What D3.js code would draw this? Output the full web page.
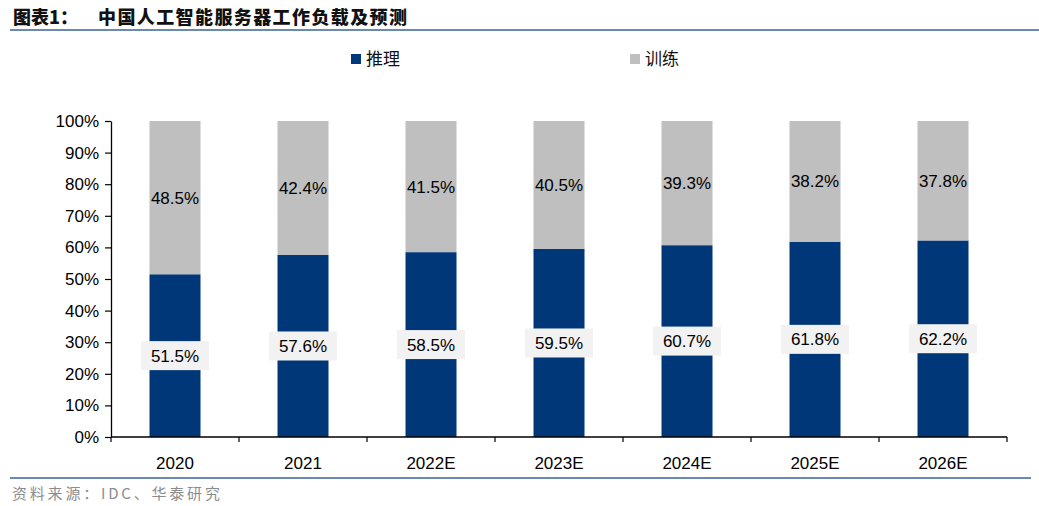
<!DOCTYPE html>
<html><head><meta charset="utf-8">
<script src="https://cdn.jsdelivr.net/npm/d3@7/dist/d3.min.js"></script>
<style>
html,body{margin:0;padding:0;background:#fff;}
svg{display:block;}
</style></head>
<body>
<svg id="chart" width="1039" height="506"></svg>
<script>
const categories = ["2020","2021","2022E","2023E","2024E","2025E","2026E"];
const inference = [51.5, 57.6, 58.5, 59.5, 60.7, 61.8, 62.2];
const training = [48.5, 42.4, 41.5, 40.5, 39.3, 38.2, 37.8];
const yTicks = [0,10,20,30,40,50,60,70,80,90,100];
const seriesNames = ["推理","训练"];
const colors = ["#003778","#bfbfbf"];
const titleLead = "图表1：";
const titleText = "中国人工智能服务器工作负载及预测";
const sourceText = "资料来源：IDC、华泰研究";

(function(){
const svg = d3.select("#chart");
const cjk = "'Noto Sans CJK SC', sans-serif";
const latin = "'Liberation Sans', Arial, sans-serif";

const t = svg.append("text").attr("y",24)
  .attr("font-family",cjk).attr("font-size",18).attr("font-weight",900).attr("fill","#111");
t.append("tspan").attr("x",13).attr("letter-spacing","0px").text(titleLead);
t.append("tspan").attr("x",98).attr("letter-spacing","1.4px").text(titleText);
svg.append("rect").attr("x",10).attr("y",29).attr("width",1029).attr("height",2).attr("fill","#6a8ab3");
svg.append("rect").attr("x",10).attr("y",477).attr("width",1021).attr("height",2).attr("fill","#6a8ab3");
svg.append("text").attr("x",12).attr("y",499)
  .attr("font-family",cjk).attr("font-size",15).attr("letter-spacing","2.8px")
  .attr("fill","#8c8c8c").text(sourceText);

const legX = [351, 630];
seriesNames.forEach((n,i)=>{
  svg.append("rect").attr("x",legX[i]).attr("y",54).attr("width",10).attr("height",10).attr("fill",colors[i]);
  svg.append("text").attr("x",legX[i]+15).attr("y",65).attr("font-family",cjk)
    .attr("font-size",17).attr("fill","#111").text(n);
});

const pL=111, pR=1007, pT=121, pB=437;
const x = d3.scaleBand().domain(categories).range([pL,pR]).paddingInner(0).paddingOuter(0);
const y = d3.scaleLinear().domain([0,100]).range([pB,pT]);
const barW = 51;

const yAxis = svg.append("g").attr("transform",`translate(${pL},0)`)
  .call(d3.axisLeft(y).tickValues(yTicks).tickFormat(d=>d+"%").tickSize(6).tickSizeOuter(0));
yAxis.select(".domain").attr("stroke","#000").attr("stroke-width",1.3);
yAxis.selectAll(".tick line").attr("stroke","#000").attr("stroke-width",1.2);
yAxis.selectAll(".tick text").attr("font-family",latin).attr("font-size",17).attr("fill","#000").attr("x",-12);

const data = categories.map((c,i)=>({c, a:inference[i], b:training[i]}));

const g = svg.append("g");
g.selectAll("rect.inf").data(data).join("rect").attr("class","inf")
  .attr("x",d=>x(d.c)+x.bandwidth()/2-barW/2).attr("width",barW)
  .attr("y",d=>y(d.a)).attr("height",d=>y(0)-y(d.a)).attr("fill",colors[0]);
g.selectAll("rect.trn").data(data).join("rect").attr("class","trn")
  .attr("x",d=>x(d.c)+x.bandwidth()/2-barW/2).attr("width",barW)
  .attr("y",d=>y(d.a+d.b)).attr("height",d=>y(d.a)-y(d.a+d.b)).attr("fill",colors[1]);

const xAxisG = svg.append("g").attr("transform",`translate(0,${pB})`);
xAxisG.append("line").attr("x1",pL).attr("x2",pR).attr("y1",0).attr("y2",0).attr("stroke","#000").attr("stroke-width",1.3);
const boundaries = categories.map(c=>x(c)).concat([pR]);
xAxisG.selectAll("line.t").data(boundaries).join("line").attr("class","t")
  .attr("x1",d=>d).attr("x2",d=>d).attr("y1",0).attr("y2",5).attr("stroke","#000").attr("stroke-width",1.2);
xAxisG.selectAll("text").data(categories).join("text")
  .attr("x",d=>x(d)+x.bandwidth()/2).attr("y",32).attr("text-anchor","middle")
  .attr("font-family",latin).attr("font-size",17).attr("fill","#000").text(d=>d);

const fmt = v=>v.toFixed(1)+"%";
data.forEach(d=>{
  const cx = x(d.c)+x.bandwidth()/2;
  const cyA = (y(0)+y(d.a))/2;
  svg.append("rect").attr("x",cx-34).attr("y",cyA-14.5).attr("width",68).attr("height",29).attr("fill","#f2f2f2");
  svg.append("text").attr("x",cx).attr("y",cyA+6).attr("text-anchor","middle")
    .attr("font-family",latin).attr("font-size",17).attr("fill","#000").text(fmt(d.a));
  const cyB = (y(d.a)+y(d.a+d.b))/2;
  svg.append("text").attr("x",cx).attr("y",cyB+6).attr("text-anchor","middle")
    .attr("font-family",latin).attr("font-size",17).attr("fill","#000").text(fmt(d.b));
});
})();
</script>
</body></html>
